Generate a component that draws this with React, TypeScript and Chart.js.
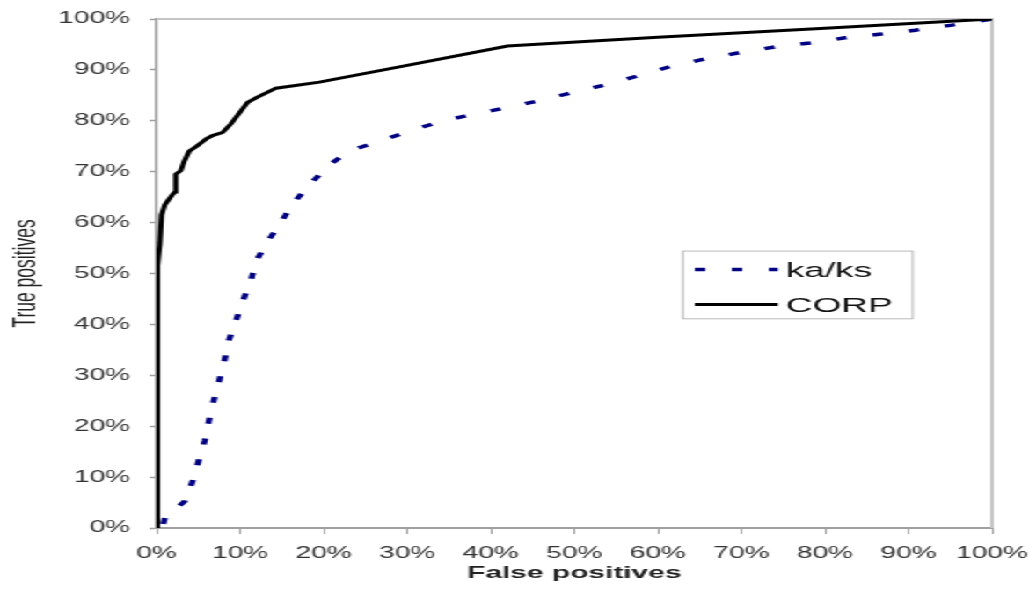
import React, { useEffect, useRef } from "react";
import { Chart, registerables } from "chart.js";

Chart.register(...registerables);

// ---- data (percent) ----
const corpX = [0, 0.05, 0.1, 0.2, 0.4, 0.6, 1.0, 1.9, 2.2, 2.3, 2.9, 3.3, 3.9, 4.8, 6.0, 6.7, 7.9, 8.9, 10.9, 11.9, 14.3, 19.5, 30, 42, 60, 80, 100];
const corpY = [0, 30, 45, 51.5, 56, 61.5, 63.5, 65.5, 66, 69.5, 70.2, 72, 74, 75, 76.5, 77.1, 77.7, 79.4, 83.6, 84.5, 86.4, 87.6, 90.9, 94.7, 96.4, 98.2, 100];

const kaksX = [0.8, 1.0, 3.35, 4.3, 5.0, 5.75, 6.26, 6.86, 7.5, 8.14, 8.66, 9.54, 10.4, 11.3, 12.0, 13.4, 14.9, 16.4, 18.4, 20.5, 23.1, 26.7, 30.3, 34.3, 38.3, 42.3, 46.5, 50.1, 54.3, 58.0, 61.8, 65.8, 69.8, 74.0, 78.2, 82.4, 86.5, 90.8, 95.2, 100];
const kaksY = [0.8, 2.0, 5.2, 9.1, 13.0, 17.1, 21.0, 25.1, 28.9, 33.0, 36.9, 40.9, 44.9, 48.7, 52.7, 56.5, 60.1, 63.9, 67.6, 71.1, 74.1, 76.0, 78.0, 80.0, 81.4, 82.7, 84.2, 85.7, 87.3, 89.0, 90.8, 92.2, 93.4, 94.5, 95.3, 96.3, 97.0, 97.8, 98.8, 100];

const seriesLabels = ["ka/ks", "CORP"];
const tickValues = [0, 10, 20, 30, 40, 50, 60, 70, 80, 90, 100];
const xTitle = "False positives";
const yTitle = "True positives";

const FONT = "'Liberation Sans', Arial, Helvetica, sans-serif";
const INNER_W = 585;
const H = 591;
const SCALE_X = 1029 / INNER_W;

const frameRight = {
  id: "frameRight",
  beforeDatasetsDraw(chart: any) {
    const { ctx, chartArea: a } = chart;
    ctx.save();
    ctx.strokeStyle = "#c4c4c4";
    ctx.lineWidth = 2;
    ctx.beginPath();
    ctx.moveTo(a.left, a.top);
    ctx.lineTo(a.right, a.top);
    ctx.lineTo(a.right, a.bottom);
    ctx.stroke();
    ctx.restore();
  },
};

const boxLegend = {
  id: "boxLegend",
  afterDatasetsDraw(chart: any) {
    const { ctx, chartArea: a } = chart;
    const w = a.right - a.left;
    const h = a.bottom - a.top;
    const L = a.left + 0.63 * w;
    const R = a.left + 0.905 * w;
    const T = a.top + 0.456 * h;
    const B = a.top + 0.589 * h;
    ctx.save();
    ctx.fillStyle = "#ffffff";
    ctx.fillRect(L, T, R - L, B - T);
    ctx.strokeStyle = "#b8b8b8";
    ctx.lineWidth = 1;
    ctx.strokeRect(L, T, R - L, B - T);
    chart.data.datasets.forEach((ds: any, i: number) => {
      const y = T + 18.3 + i * 35;
      ctx.save();
      ctx.strokeStyle = ds.borderColor;
      ctx.lineWidth = ds.borderWidth;
      ctx.setLineDash(ds.borderDash || []);
      ctx.lineCap = "butt";
      ctx.beginPath();
      ctx.moveTo(L + 6.8, y);
      ctx.lineTo(L + 54, y);
      ctx.stroke();
      ctx.restore();
      ctx.fillStyle = "#111";
      ctx.font = `21px ${FONT}`;
      ctx.textAlign = "left";
      ctx.textBaseline = "middle";
      ctx.fillText(ds.label, L + 58.5, y + 1.5);
    });
    ctx.restore();
  },
};

export default function App() {
  const canvasRef = useRef<HTMLCanvasElement | null>(null);

  useEffect(() => {
    if (!canvasRef.current) return;
    const chart = new Chart(canvasRef.current, {
      type: "line",
      data: {
        datasets: [
          {
            label: seriesLabels[0],
            data: kaksX.map((x, i) => ({ x, y: kaksY[i] })),
            borderColor: "#000080",
            borderWidth: 3.5,
            borderDash: [6, 15],
            borderCapStyle: "butt",
            pointRadius: 0,
            tension: 0,
            fill: false,
            order: 1,
          },
          {
            label: seriesLabels[1],
            data: corpX.map((x, i) => ({ x, y: corpY[i] })),
            borderColor: "#000000",
            borderWidth: 3,
            pointRadius: 0,
            tension: 0,
            fill: false,
            order: 0,
          },
        ],
      },
      options: {
        responsive: false,
        animation: false,
        devicePixelRatio: 1,
        layout: { padding: { top: 19, right: 21, bottom: 0, left: 0 } },
        plugins: {
          legend: { display: false },
          tooltip: { enabled: false },
        },
        scales: {
          x: {
            type: "linear",
            min: 0,
            max: 100,
            afterBuildTicks: (s: any) => {
              s.ticks = tickValues.map((v) => ({ value: v }));
            },
            afterFit: (s: any) => {
              s.height = 63;
              s.paddingLeft = 0;
              s.paddingRight = 0;
            },
            ticks: {
              callback: (v: any) => v + "%",
              padding: 10,
              color: "#333",
              font: { family: FONT, size: 16 },
              maxRotation: 0,
              autoSkip: false,
            },
            grid: {
              drawOnChartArea: false,
              drawTicks: true,
              tickLength: 6,
              tickColor: "#a0a0a0",
              tickWidth: 1,
            },
            border: { display: true, color: "#a0a0a0", width: 2 },
            title: {
              display: true,
              text: xTitle,
              color: "#222",
              font: { family: FONT, size: 17, weight: "bold" },
              padding: { top: 0, bottom: 7 },
            },
          },
          y: {
            type: "linear",
            min: 0,
            max: 100,
            afterBuildTicks: (s: any) => {
              s.ticks = tickValues.map((v) => ({ value: v }));
            },
            afterFit: (s: any) => {
              s.width = 89;
              s.paddingTop = 0;
              s.paddingBottom = 0;
            },
            ticks: {
              callback: (v: any) => v + "%",
              padding: 11,
              color: "#333",
              font: { family: FONT, size: 16 },
              autoSkip: false,
            },
            grid: {
              drawOnChartArea: false,
              drawTicks: true,
              tickLength: 4,
              tickColor: "#a0a0a0",
              tickWidth: 1.5,
            },
            border: { display: true, color: "#a0a0a0", width: 1.5 },
            title: {
              display: true,
              text: yTitle,
              color: "#222",
              font: { family: FONT, size: 17.5 },
              padding: { top: 4.5, bottom: 0 },
            },
          },
        },
      } as any,
      plugins: [frameRight, boxLegend],
    });
    return () => chart.destroy();
  }, []);

  return (
    <div
      style={{
        position: "fixed",
        left: 0,
        top: 0,
        width: INNER_W,
        height: H,
        background: "#fff",
        transform: `scaleX(${SCALE_X})`,
        transformOrigin: "0 0",
      }}
    >
      <canvas ref={canvasRef} width={INNER_W} height={H} />
    </div>
  );
}
